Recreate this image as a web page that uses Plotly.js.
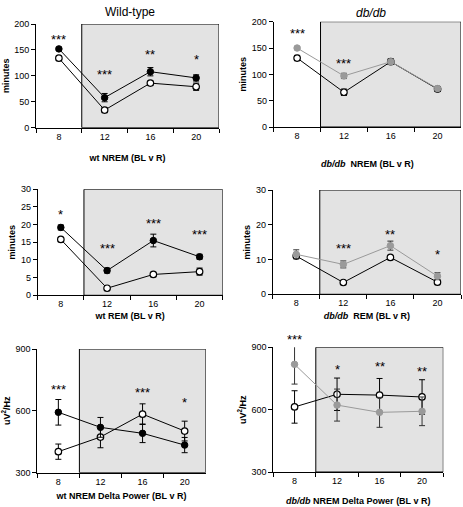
<!DOCTYPE html>
<html>
<head>
<meta charset="utf-8">
<script src="https://cdn.plot.ly/plotly-3.0.1.min.js"></script>
<style>html,body{margin:0;padding:0;background:#fff;}#chart{width:463px;height:507px;}</style>
</head>
<body>
<div id="chart"></div>
<script>
// ---------- DATA ----------
const hours = ["8", "12", "16", "20"];

// Wild-type NREM (minutes)
const wtNremBL = [134, 34, 86, 79];
const wtNremBLErr = [4, 5, 4, 7];
const wtNremR = [152, 58, 108, 96];
const wtNremRErr = [3, 8, 8, 6];
const wtNremSig = ["***", "***", "**", "*"];
const wtNremSigY = [175, 108, 146, 137];

// db/db NREM (minutes)
const dbNremBL = [131, 66, 124, 72];
const dbNremBLErr = [5, 6, 5, 4];
const dbNremR = [150, 97, 124, 73];
const dbNremRErr = [3, 5, 5, 4];
const dbNremSig = ["***", "***", "", ""];
const dbNremSigY = [183, 127, null, null];

// Wild-type REM (minutes)
const wtRemBL = [15.8, 2.0, 5.9, 6.7];
const wtRemBLErr = [0.5, 0.3, 0.6, 1.0];
const wtRemR = [19.2, 7.0, 15.5, 10.9];
const wtRemRErr = [0.7, 0.7, 1.8, 0.7];
const wtRemSig = ["*", "***", "***", "***"];
const wtRemSigY = [23.7, 14.2, 21.3, 18];

// db/db REM (minutes)
const dbRemBL = [11.0, 3.4, 10.6, 3.5];
const dbRemBLErr = [0.5, 0.3, 0.5, 0.4];
const dbRemR = [11.5, 8.6, 14.0, 5.2];
const dbRemRErr = [1.3, 1.0, 1.3, 1.0];
const dbRemSig = ["", "***", "**", "*"];
const dbRemSigY = [null, 13.9, 18.2, 12.3];

// Wild-type NREM delta power (uV^2/Hz)
const wtDeltaBL = [402, 473, 584, 502];
const wtDeltaBLErr = [37, 52, 50, 48];
const wtDeltaR = [593, 520, 491, 434];
const wtDeltaRErr = [62, 48, 45, 37];
const wtDeltaSig = ["***", "", "***", "*"];
const wtDeltaSigY = [720, null, 704, 656];

// db/db NREM delta power (uV^2/Hz)
const dbDeltaBL = [613, 674, 670, 661];
const dbDeltaBLErr = [78, 78, 80, 83];
const dbDeltaR = [818, 622, 587, 592];
const dbDeltaRErr = [95, 77, 72, 69];
const dbDeltaSig = ["***", "*", "**", "**"];
const dbDeltaSigY = [950, 807, 823, 796];

// ---------- LAYOUT HELPERS ----------
const W = 463, H = 507;
const FONT = "Liberation Sans, Arial, sans-serif";
const GREY = "#9a9a9a";

const panels = [
  {box: [36, 219, 24, 127.7], yr: [0, 200], dt: 50, xt: "<b>wt NREM (BL v R)</b>", yt: "<b>minutes</b>", xs: 14,
   bl: wtNremBL, ble: wtNremBLErr, r: wtNremR, re: wtNremRErr, sig: wtNremSig, sigY: wtNremSigY, grey: false},
  {box: [273.7, 461, 21.7, 127], yr: [0, 200], dt: 50, xt: "<b><i>db/db</i>  NREM (BL v R)</b>", yt: "<b>minutes</b>", xs: 20,
   bl: dbNremBL, ble: dbNremBLErr, r: dbNremR, re: dbNremRErr, sig: dbNremSig, sigY: dbNremSigY, grey: true},
  {box: [37.7, 222.7, 189.3, 295.3], yr: [0, 30], dt: 5, xt: "<b>wt REM (BL v R)</b>", yt: "<b>minutes</b>", xs: 4,
   bl: wtRemBL, ble: wtRemBLErr, r: wtRemR, re: wtRemRErr, sig: wtRemSig, sigY: wtRemSigY, grey: false},
  {box: [272.7, 461, 190, 294.3], yr: [0, 30], dt: 10, xt: "<b><i>db/db</i>  REM (BL v R)</b>", yt: "<b>minutes</b>", xs: 5,
   bl: dbRemBL, ble: dbRemBLErr, r: dbRemR, re: dbRemRErr, sig: dbRemSig, sigY: dbRemSigY, grey: true},
  {box: [37.3, 205.7, 349, 472.7], yr: [300, 900], dt: 300, xt: "<b>wt NREM Delta Power (BL v R)</b>", yt: "<b>uV<sup>2</sup>/Hz</b>", xs: 7,
   bl: wtDeltaBL, ble: wtDeltaBLErr, r: wtDeltaR, re: wtDeltaRErr, sig: wtDeltaSig, sigY: wtDeltaSigY, grey: false},
  {box: [273.3, 443.3, 347.3, 472], yr: [300, 900], dt: 300, xt: "<b><i>db/db</i> NREM Delta Power (BL v R)</b>", yt: "<b>uV<sup>2</sup>/Hz</b>", xs: 12,
   bl: dbDeltaBL, ble: dbDeltaBLErr, r: dbDeltaR, re: dbDeltaRErr, sig: dbDeltaSig, sigY: dbDeltaSigY, grey: true}
];

const traces = [];
const layout = {
  width: W, height: H,
  margin: {l: 0, r: 0, t: 0, b: 0},
  paper_bgcolor: "#fff", plot_bgcolor: "rgba(0,0,0,0)",
  showlegend: false,
  font: {family: FONT, size: 9, color: "#000"},
  shapes: [], annotations: []
};

panels.forEach((p, i) => {
  const n = i + 1;
  const xa = "x" + (n === 1 ? "" : n), ya = "y" + (n === 1 ? "" : n);
  const xk = "xaxis" + (n === 1 ? "" : n), yk = "yaxis" + (n === 1 ? "" : n);
  const [x0, x1, y0, y1] = p.box;
  layout[xk] = {
    domain: [x0 / W, x1 / W], anchor: ya, type: "category",
    range: [-0.5, 3.5], tickson: "boundaries", ticks: "outside", ticklen: 4, tickwidth: 1, tickcolor: "#000",
    showline: true, linecolor: "#000", linewidth: 1, showgrid: false, zeroline: false,
    tickfont: {size: 9, family: FONT},
    title: {text: p.xt, font: {size: 9, family: FONT}, standoff: p.xs},
    fixedrange: true
  };
  layout[yk] = {
    domain: [1 - y1 / H, 1 - y0 / H], anchor: xa,
    range: p.yr, dtick: p.dt, tick0: p.yr[0], ticks: "outside", ticklen: 4, tickwidth: 1, tickcolor: "#000",
    showline: true, linecolor: "#000", linewidth: 1, showgrid: false, zeroline: false,
    tickfont: {size: 9, family: FONT},
    title: {text: p.yt, font: {size: 9, family: FONT}, standoff: 3},
    fixedrange: true
  };
  // recovery-period shading
  layout.shapes.push({
    type: "rect", xref: xa, yref: ya, x0: 0.5, x1: 3.5, y0: p.yr[0], y1: p.yr[1],
    fillcolor: "#e3e3e3", line: {color: "#000", width: 1}, layer: "below"
  });
  const blTrace = {
    x: hours, y: p.bl, xaxis: xa, yaxis: ya, type: "scatter", mode: "lines+markers", name: "BL",
    line: {color: "#000", width: 1},
    marker: {symbol: "circle", size: 6.5, color: "#fff", line: {color: "#000", width: 1.2}},
    error_y: {type: "data", array: p.ble, visible: true, color: "#000", thickness: 1, width: 3},
    cliponaxis: false
  };
  const rColor = p.grey ? GREY : "#000";
  const rTrace = {
    x: hours, y: p.r, xaxis: xa, yaxis: ya, type: "scatter", mode: "lines+markers", name: "R",
    line: {color: rColor, width: 1},
    marker: {symbol: "circle", size: 6.5, color: rColor, line: {color: rColor, width: 1}},
    error_y: {type: "data", array: p.re, visible: true, color: p.grey ? "#333" : "#000", thickness: 1, width: 3},
    cliponaxis: false
  };
  traces.push(blTrace, rTrace);
  // significance stars, placed in the panel's domain coordinates (so values above the range still show)
  p.sig.forEach((s, k) => {
    if (!s) return;
    const frac = (p.sigY[k] - p.yr[0]) / (p.yr[1] - p.yr[0]);
    layout.annotations.push({
      xref: xa, yref: ya + " domain", x: k, y: frac, text: s, showarrow: false,
      font: {size: 13, family: FONT, color: "#000"}, yanchor: "middle", xanchor: "center", yshift: -3
    });
  });
});

// column titles
layout.annotations.push(
  {xref: "paper", yref: "paper", x: 130 / W, y: 1 - 12 / H, text: "Wild-type", showarrow: false,
   font: {size: 12, family: FONT}, xanchor: "center", yanchor: "middle"},
  {xref: "paper", yref: "paper", x: 371 / W, y: 1 - 13 / H, text: "<i>db/db</i>", showarrow: false,
   font: {size: 12, family: FONT}, xanchor: "center", yanchor: "middle"}
);

Plotly.newPlot("chart", traces, layout, {staticPlot: true, displayModeBar: false});
</script>
</body>
</html>
